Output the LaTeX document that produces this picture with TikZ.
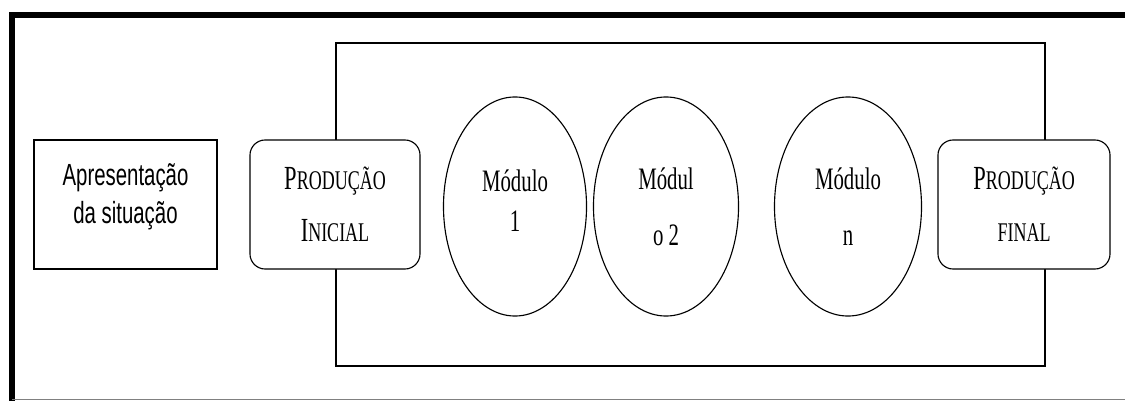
\documentclass[tikz,border=0pt]{standalone}
\usepackage{fontspec}
\usepackage{graphicx}
\usetikzlibrary{shapes.geometric}
\setmainfont{Liberation Serif}
\newfontfamily\apresfont{Liberation Sans}
% fake small caps: first letter big, rest smaller
\newcommand{\fakesc}[2]{{\fontsize{16}{16}\selectfont #1\fontsize{12.8}{12.8}\selectfont #2}}
% the letters of the figure are drawn taller than wide
\newcommand{\tallt}[1]{\scalebox{1}[1.5]{#1}}
\begin{document}
\begin{tikzpicture}[x=0.025cm, y=-0.025cm,
		plainbox/.style = {draw, line width=0.8pt, fill=white, align=center, inner sep=0pt},
		prodbox/.style = {plainbox, rounded corners=0.38cm, minimum width=4.25cm, minimum height=3.225cm,
			font={\fontsize{16}{37}\selectfont}},
		modball/.style = {plainbox, ellipse, minimum height=5.475cm}]
			\useasboundingbox (0,0) rectangle (1125,401);
			
			% outer frame
			\draw[line width=4.3pt] (12,401) -- (12,15) -- (1125,15);
			\draw[gray, line width=0.6pt] (12,399) -- (1125,399);
			
			% inner frame
			\draw[line width=0.8pt] (336,43) rectangle (1045,366);
			
			\node[plainbox, minimum width=4.575cm, minimum height=3.225cm,
				font={\apresfont\fontsize{14.5}{27}\selectfont}] (apres) at (125.5,204.5) {\tallt{Apresentação}\\\tallt{da situação}\rule[-15pt]{0pt}{0pt}};
			\node[prodbox] (pinic) at (335,204.5) {\tallt{\fakesc{P}{RODUÇÃO}}\\\tallt{\fakesc{I}{NICIAL}}};
			
			% modules
			\node[modball, minimum width=3.575cm, font={\fontsize{14.8}{28.5}\selectfont}] (mod1) at (515,206.5) {\tallt{Módulo}\\\tallt{1}\rule[-8.5pt]{0pt}{0pt}};
			\node[modball, minimum width=3.625cm, font={\fontsize{14.8}{40}\selectfont}] (mod2) at (666,206.5) {\tallt{Módul}\\\tallt{o 2}};
			\node[modball, minimum width=3.675cm, font={\fontsize{14.8}{40}\selectfont}] (modn) at (848,206.5) {\tallt{Módulo}\\\tallt{n}};
			
			\node[prodbox, minimum width=4.3cm] (pfin) at (1024,204.5) {\tallt{\fakesc{P}{RODUÇÃO}}\\\tallt{\fakesc{}{FINAL}}};
		\end{tikzpicture}
\end{document}
